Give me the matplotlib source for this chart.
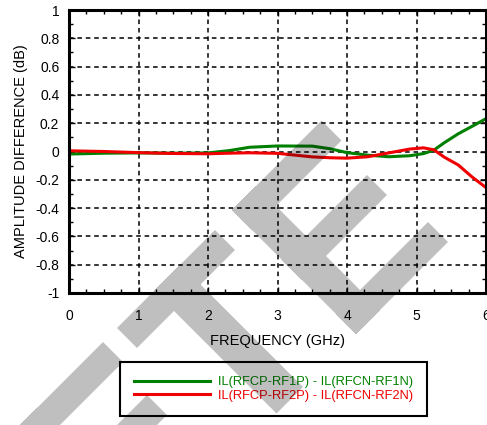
import numpy as np
import matplotlib
matplotlib.use('Agg')
import matplotlib.pyplot as plt
from matplotlib.path import Path
from matplotlib.patches import PathPatch

# datos
freq = [0, 0.5, 1, 1.5, 2, 2.3, 2.6, 3, 3.5, 3.75, 4, 4.3, 4.6, 4.9, 5.1, 5.25, 5.4, 5.6, 5.8, 6]
diff_rf1 = [-0.018, -0.012, -0.010, -0.012, -0.010, 0.006, 0.030, 0.039, 0.038, 0.020,
            -0.008, -0.026, -0.037, -0.030, -0.015, 0.010, 0.062, 0.125, 0.178, 0.232]
diff_rf2 = [0.005, 0.0, -0.008, -0.014, -0.016, -0.012, -0.009, -0.013, -0.038, -0.044,
            -0.047, -0.037, -0.010, 0.017, 0.026, 0.012, -0.040, -0.095, -0.180, -0.255]

label_rf1 = "IL(RFCP-RF1P) - IL(RFCN-RF1N)"
label_rf2 = "IL(RFCP-RF2P) - IL(RFCN-RF2N)"

x_ticks = [0, 1, 2, 3, 4, 5, 6]
y_ticks = [-1, -0.8, -0.6, -0.4, -0.2, 0, 0.2, 0.4, 0.6, 0.8, 1]
y_tick_labels = ["-1", "-0.8", "-0.6", "-0.4", "-0.2", "0", "0.2", "0.4", "0.6", "0.8", "1"]

# marca de agua diagonal: rectangulos en coordenadas (s = x+y, d = x-y) de pixel
watermark_rects = [
    # E izquierda
    (445, 485, -418, -239), (542, 582, -418, -248), (650, 690, -418, -234), (445, 690, -418, -370),
    # T
    (445, 485, -211, -15), (445, 690, -137, -84),
    # E derecha
    (442, 482, 22, 201), (542, 582, 22, 192), (650, 690, 22, 206), (442, 690, 22, 70),
]

W, H = 487, 425
plt.rcParams['font.family'] = ['Liberation Sans', 'DejaVu Sans']

fig = plt.figure(figsize=(W / 100, H / 100), dpi=100)
ax = fig.add_axes([69 / W, 1 - 293 / H, 417 / W, 283 / H])

ax.plot(freq, diff_rf1, color='#008000', lw=2.2, label=label_rf1, zorder=3)
ax.plot(freq, diff_rf2, color='#f00000', lw=2.2, label=label_rf2, zorder=3)

ax.set_xlim(0, 6)
ax.set_ylim(-1, 1)
ax.set_xticks(x_ticks)
ax.set_xticklabels([str(t) for t in x_ticks])
ax.set_yticks(y_ticks)
ax.set_yticklabels(y_tick_labels)
ax.set_xticks(np.arange(0, 6.01, 0.25), minor=True)
ax.set_yticks(np.arange(-1, 1.01, 0.1), minor=True)

ax.tick_params(which='both', direction='in', top=True, right=True, labelsize=10, color='black')
ax.tick_params(which='major', length=4, width=1)
ax.tick_params(which='minor', length=3, width=1)
ax.tick_params(axis='x', pad=11.5)
ax.tick_params(axis='y', pad=7)

ax.grid(True, which='major', color='black', linestyle=(0, (3, 2.5)), linewidth=1.1)
for sp in ax.spines.values():
    sp.set_linewidth(2.2)
    sp.set_zorder(4)

ax.set_xlabel("FREQUENCY (GHz)", fontsize=10.5, va='center')
ax.xaxis.set_label_coords(0.5, (293 - 341.5) / 283)
ax.set_ylabel("AMPLITUDE DIFFERENCE (dB)", fontsize=10.5, va='center', ha='center')
ax.yaxis.set_label_coords((21 - 69) / 417, 0.5)

leg = fig.legend(loc='upper left', bbox_to_anchor=(120 / W, 1 - 362 / H), borderaxespad=0,
                 fontsize=9.3, handlelength=5.9, handletextpad=0.55, labelspacing=0.1,
                 borderpad=1.1, fancybox=False, framealpha=1, edgecolor='black',
                 labelcolor='linecolor')
leg.get_frame().set_linewidth(1.5)

# marca de agua gris semitransparente por encima de todo
verts, codes = [], []
for s0, s1, d0, d1 in watermark_rects:
    corners = [(s0, d0), (s1, d0), (s1, d1), (s0, d1)]
    pts = [((s + d) / 2 / W, 1 - (s - d) / 2 / H) for s, d in corners]
    verts += pts + [pts[0]]
    codes += [Path.MOVETO, Path.LINETO, Path.LINETO, Path.LINETO, Path.CLOSEPOLY]
wm = PathPatch(Path(verts, codes), facecolor='black', edgecolor='none', alpha=0.25,
               transform=fig.transFigure, zorder=10)
fig.add_artist(wm)

fig.savefig("out.png", dpi=100)
